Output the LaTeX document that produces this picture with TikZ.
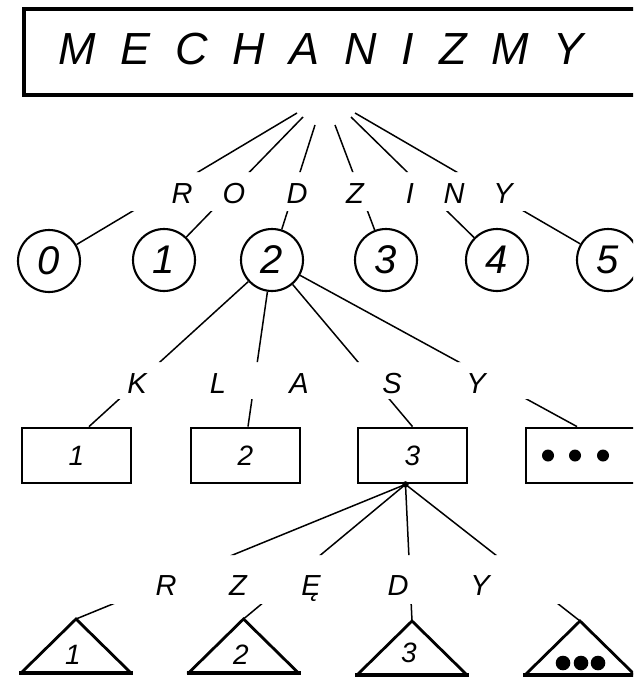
\documentclass[tikz,border=0pt]{standalone}
\usepackage{fontspec}
\setmainfont{Liberation Sans}
\usetikzlibrary{calc}
\newcommand\tgap{\hspace{24.8pt}}
\begin{document}
\begin{tikzpicture}[x=1pt,y=-1pt,
  conn/.style={line width=1.5pt},
  circ/.style={draw, circle, line width=2.1pt, minimum size=62pt, inner sep=0pt,
    font=\fontsize{40}{40}\selectfont\itshape},
  boxn/.style={draw, rectangle, line width=2.8pt, minimum width=109pt,
    minimum height=55pt, inner sep=0pt, font=\fontsize{28}{28}\selectfont\itshape},
  lett/.style={anchor=base, inner sep=0pt, font=\fontsize{29}{29}\selectfont\itshape},
  numl/.style={inner sep=0pt, font=\fontsize{28}{28}\selectfont\itshape},
  tri/.style={line width=2.8pt, line join=miter},
  tribase/.style={line width=3.8pt},
  ]
\useasboundingbox (0,0) rectangle (633,677);
\clip (0,0) rectangle (633,677);

% top box
\node[draw, line width=3.1pt, minimum width=616pt, minimum height=86pt, inner sep=0pt] (topbox) at (332,52) {};
\node[anchor=base, inner sep=0pt, font=\fontsize{45}{45}\selectfont\itshape] (title) at (321,65)
  {M\tgap E\tgap C\tgap H\tgap A\tgap N\tgap I\tgap Z\tgap M\tgap Y};

% circles
\node[circ] (c0) at (49,261) {0};
\node[circ] (c1) at (164,260) {1};
\node[circ] (c2) at (272,260) {2};
\node[circ] (c3) at (386,260) {3};
\node[circ] (c4) at (497,260) {4};
\node[circ] (c5) at (608,260) {5};

% row 1 letters
\node[lett] (lR) at (182,203) {R};
\node[lett] (lO) at (234,203) {O};
\node[lett] (lD) at (297,203) {D};
\node[lett] (lZ) at (355,203) {Z};
\node[lett] (lI) at (410,203) {I};
\node[lett] (lN) at (454,203) {N};
\node[lett] (lY) at (503,203) {Y};

% row 1 connectors
\coordinate (a1) at (297,113);
\coordinate (a2) at (303,117);
\coordinate (a3) at (315,125);
\coordinate (a4) at (335,125);
\coordinate (a5) at (351,117);
\coordinate (a6) at (355,113);
\begin{scope}
  \clip (0,0) rectangle (633,172) (0,211) rectangle (633,677);
  \draw[conn] (a1) -- (c0);
  \draw[conn] (a2) -- (c1);
  \draw[conn] (a3) -- (c2);
  \draw[conn] (a4) -- (c3);
  \draw[conn] (a5) -- (c4);
  \draw[conn] (a6) -- (c5);
\end{scope}

% rectangles
\node[boxn] (r1) at (76.5,455.5) {1};
\node[boxn] (r2) at (245.5,455.5) {2};
\node[boxn] (r3) at (412.5,455.5) {3};
\node[boxn] (r4) at (580.5,455.5) {};
\foreach \dx in {-32.5,-5.5,22.5} \fill ($(r4.center)+(\dx,0)$) circle (6);

% row 2 letters
\node[lett] (lK) at (137,393) {K};
\node[lett] (lL) at (218,393) {L};
\node[lett] (lA) at (299,393) {A};
\node[lett] (lS) at (392,393) {S};
\node[lett] (lY2) at (476,393) {Y};

% row 2 connectors
\coordinate (b1) at ($(r1.north)+(12.5,0)$);
\coordinate (b2) at ($(r2.north)+(2.5,0)$);
\coordinate (b3) at ($(r3.north)+(0,0)$);
\coordinate (b4) at ($(r4.north)+(-3.5,0)$);
\begin{scope}
  \clip (0,0) rectangle (633,362) (0,399) rectangle (633,677);
  \draw[conn] (c2) -- (b1);
  \draw[conn] (c2) -- (b2);
  \draw[conn] (c2) -- (b3);
  \draw[conn] (c2) -- (b4);
\end{scope}

% triangles
\coordinate (p1) at (76,619);
\coordinate (p2) at (243.5,619);
\coordinate (p3) at (412,621);
\coordinate (p4) at (580,621);
\foreach \p in {p1,p2,p3,p4} {
  \draw[tri] ($(\p)+(-56,55)$) -- (\p) -- ($(\p)+(56,55)$);
  \draw[tribase] ($(\p)+(-57,54)$) -- ($(\p)+(57,54)$);
}
\node[numl] (t1) at (73,655) {1};
\node[numl] (t2) at (241,655) {2};
\node[numl] (t3) at (409,653) {3};
\foreach \dx in {-17,1,18} \fill ($(p4)+(\dx,42)$) circle (7.3);

% row 3 letters
\node[lett] (lR3) at (166,595) {R};
\node[lett] (lZ3) at (238,595) {Z};
\node[lett] (lE3) at (311,595) {Ę};
\node[lett] (lD3) at (398,595) {D};
\node[lett] (lY3) at (480,595) {Y};

% row 3 connectors
\coordinate (hub) at ($(r3.south)+(-7,0)$);
\fill (hub) circle (3.2);
\begin{scope}
  \clip (0,0) rectangle (633,555) (0,604) rectangle (633,677);
  \draw[conn] (hub) -- (p1);
  \draw[conn] (hub) -- (p2);
  \draw[conn] (hub) -- (p3);
  \draw[conn] (hub) -- (p4);
\end{scope}
\end{tikzpicture}
\end{document}
